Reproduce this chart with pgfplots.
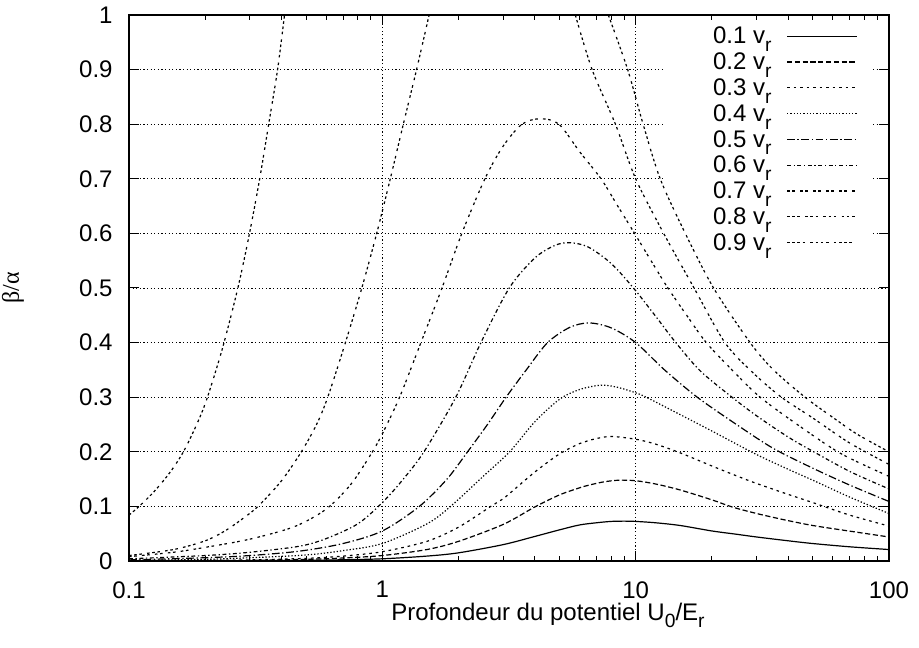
\documentclass[border=0pt]{standalone}
\usepackage{fontspec}
\setmainfont{Liberation Sans}
\newfontfamily\symb{Liberation Serif}
\usepackage{pgfplots}
\pgfplotsset{compat=1.18}
\newcommand\sub[1]{\raisebox{-0.32em}{\fontsize{9.6}{10}\selectfont #1}}
\begin{document}
\fontsize{12}{14}\selectfont
\begin{tikzpicture}
\begin{axis}[
  scale only axis, width=380pt, height=273pt,
  xmode=log, xmin=0.1, xmax=100, ymin=0, ymax=1,
  xtick={0.1,1,10,100}, xticklabels={0.1,1,10,100},
  ytick={0,0.1,0.2,0.3,0.4,0.5,0.6,0.7,0.8,0.9,1},
  yticklabels={0,0.1,0.2,0.3,0.4,0.5,0.6,0.7,0.8,0.9,1},
  /pgf/number format/assume math mode=true,
  tick align=inside, major tick length=5pt, minor tick length=2.5pt,
  tick style={black, line width=0.5pt},
  axis line style={line width=0.9pt},
  xmajorgrids=true, ymajorgrids=false,
  major grid style={black, line width=0.45pt, dash pattern=on 0.6pt off 1.2pt},
  xticklabel style={yshift=-6pt},
  yticklabel style={xshift=-4pt},
  every axis x label/.style={at={(axis description cs:0.5513,-0.1081)}, anchor=base},
  every axis y label/.style={at={(axis description cs:-0.1526,0.5)}, anchor=center, rotate=90},
  xlabel={Profondeur du potentiel U\sub{0}/E\sub{r}},
  ylabel={{\symb β/α}},
  legend plot pos=right, legend cell align=right,
  legend style={at={(0.979,0.987)}, anchor=north east, draw=none, fill=none,
    inner xsep=7.5pt, inner ysep=0pt, column sep=7.5pt, row sep=0pt,
    nodes={inner sep=0pt, text height=10.75pt, text depth=2.15pt}},
  legend image code/.code={\draw[#1] (0pt,-0.4pt) -- (35pt,-0.4pt);},
  unbounded coords=jump,
  no markers,
  every axis plot/.append style={black, line width=0.6pt, smooth, tension=0.5},
]
% horizontal grid lines, interrupted behind the key
\addplot[forget plot, sharp plot, line width=0.45pt, dash pattern=on 0.6pt off 1.2pt] coordinates {(0.1,0.1)(100,0.1)(1,nan)(0.1,0.2)(100,0.2)(1,nan)(0.1,0.3)(100,0.3)(1,nan)(0.1,0.4)(100,0.4)(1,nan)(0.1,0.5)(100,0.5)(1,nan)(0.1,0.6)(12.85,0.6)(1,nan)(86.5,0.6)(100,0.6)(1,nan)(0.1,0.7)(12.85,0.7)(1,nan)(86.5,0.7)(100,0.7)(1,nan)(0.1,0.8)(12.85,0.8)(1,nan)(86.5,0.8)(100,0.8)(1,nan)(0.1,0.9)(12.85,0.9)(1,nan)(86.5,0.9)(100,0.9)};
\addplot[solid] coordinates {(0.1,0.00005)(0.2,0.0002)(0.3,0.0005)(0.5,0.0012)(0.7,0.0023)(1,0.004)(1.5,0.009)(2,0.015)(3,0.030)(4,0.045)(5,0.057)(6,0.066)(7,0.070)(8,0.0725)(9,0.073)(10,0.0725)(12,0.070)(15,0.065)(20,0.055)(25,0.049)(30,0.044)(40,0.037)(50,0.032)(70,0.026)(100,0.021)};
\addlegendentry{\makebox[47.5pt][r]{0.1 v\sub{r}}}
\addplot[dash pattern=on 2.6pt off 1.3pt] coordinates {(0.1,0.0002)(0.2,0.0006)(0.3,0.0012)(0.5,0.003)(0.7,0.0055)(1,0.010)(1.5,0.021)(2,0.036)(3,0.067)(4,0.099)(5,0.121)(6,0.134)(6.55,0.139)(7.5,0.145)(8.6,0.148)(10,0.147)(12,0.141)(15,0.130)(20,0.112)(24,0.099)(30,0.087)(39,0.075)(50,0.065)(67,0.056)(100,0.044)};
\addlegendentry{\makebox[47.5pt][r]{0.2 v\sub{r}}}
\addplot[dash pattern=on 1.3pt off 1.95pt] coordinates {(0.1,0.0004)(0.2,0.0011)(0.3,0.002)(0.5,0.0048)(0.7,0.009)(1,0.017)(1.5,0.036)(2,0.062)(2.68,0.1)(3,0.114)(4,0.163)(5,0.196)(6,0.215)(6.55,0.221)(7.9,0.228)(10,0.223)(12,0.214)(15,0.198)(20,0.174)(25,0.156)(30,0.142)(40,0.122)(50,0.107)(70,0.084)(100,0.064)};
\addlegendentry{\makebox[47.5pt][r]{0.3 v\sub{r}}}
\addplot[dash pattern=on 0.65pt off 0.975pt] coordinates {(0.1,0.001)(0.2,0.003)(0.3,0.006)(0.5,0.011)(0.7,0.019)(1,0.032)(1.5,0.068)(1.86,0.1)(2.5,0.155)(3.18,0.2)(4,0.255)(5,0.296)(6,0.314)(7.3,0.322)(8.5,0.318)(10,0.308)(11,0.300)(15,0.268)(20,0.238)(30,0.195)(40,0.168)(50,0.148)(70,0.117)(100,0.087)};
\addlegendentry{\makebox[47.5pt][r]{0.4 v\sub{r}}}
\addplot[dash pattern=on 3.9pt off 1.3pt on 0.65pt off 1.3pt] coordinates {(0.1,0.002)(0.2,0.006)(0.3,0.010)(0.47,0.018)(0.7,0.032)(1,0.055)(1.4,0.1)(1.8,0.15)(2.17,0.2)(2.6,0.25)(3.08,0.3)(3.7,0.35)(4.49,0.4)(5.5,0.428)(6.55,0.436)(8,0.427)(10,0.4)(13,0.35)(17.5,0.3)(25,0.25)(35,0.206)(50,0.170)(70,0.139)(100,0.109)};
\addlegendentry{\makebox[47.5pt][r]{0.5 v\sub{r}}}
\addplot[dash pattern=on 1.95pt off 1.3pt on 0.65pt off 1.3pt] coordinates {(0.1,0.004)(0.2,0.010)(0.3,0.016)(0.47,0.027)(0.6,0.041)(0.8,0.068)(1,0.107)(1.2,0.148)(1.46,0.2)(1.95,0.3)(2.45,0.4)(3.17,0.5)(4,0.555)(4.8,0.578)(5.5,0.583)(6.5,0.575)(8,0.545)(9.8,0.5)(12,0.448)(14.4,0.4)(18,0.348)(24,0.3)(30,0.266)(40,0.227)(50,0.201)(70,0.164)(100,0.132)};
\addlegendentry{\makebox[47.5pt][r]{0.6 v\sub{r}}}
\addplot[dash pattern=on 1.3pt off 1.3pt on 1.3pt off 2.6pt] coordinates {(0.1,0.008)(0.15,0.016)(0.2,0.025)(0.3,0.040)(0.45,0.063)(0.6,0.095)(0.75,0.14)(0.9,0.195)(1,0.233)(1.17,0.3)(1.42,0.4)(1.72,0.5)(2.06,0.6)(2.54,0.7)(3.0,0.76)(3.56,0.80)(4.2,0.81)(4.98,0.8)(6.0,0.75)(7.3,0.7)(8.5,0.65)(9.9,0.6)(11.5,0.55)(13.4,0.5)(15.9,0.45)(19,0.4)(24,0.35)(31,0.3)(45,0.245)(65,0.196)(100,0.155)};
\addlegendentry{\makebox[47.5pt][r]{0.7 v\sub{r}}}
\addplot[dash pattern=on 1.3pt off 1.3pt on 1.3pt off 1.3pt on 1.3pt off 2.6pt] coordinates {(0.1,0.010)(0.15,0.021)(0.2,0.037)(0.239,0.055)(0.28,0.077)(0.323,0.1)(0.4,0.147)(0.479,0.2)(0.55,0.25)(0.609,0.3)(0.715,0.4)(0.83,0.5)(0.95,0.6)(1.075,0.7)(1.21,0.8)(1.365,0.9)(1.53,1.0)(3,nan)(5.78,1.0)(6.73,0.9)(8.32,0.8)(10,0.7)(12.9,0.6)(17,0.5)(22.5,0.4)(29,0.345)(37.6,0.3)(50,0.262)(70,0.216)(100,0.177)};
\addlegendentry{\makebox[47.5pt][r]{0.8 v\sub{r}}}
\addplot[dash pattern=on 1.3pt off 1.3pt on 1.3pt off 1.3pt on 1.3pt off 1.3pt on 1.3pt off 2.6pt] coordinates {(0.1,0.084)(0.109,0.099)(0.125,0.126)(0.145,0.162)(0.164,0.2)(0.185,0.25)(0.203,0.297)(0.234,0.39)(0.269,0.5)(0.299,0.6)(0.328,0.7)(0.356,0.8)(0.386,0.9)(0.411,1.0)(2,nan)(7.8,1.0)(9.3,0.9)(10.7,0.8)(12.5,0.7)(15.7,0.6)(20.3,0.5)(28.3,0.4)(35,0.35)(46.6,0.3)(60,0.263)(75,0.232)(100,0.200)};
\addlegendentry{\makebox[47.5pt][r]{0.9 v\sub{r}}}
\end{axis}
\pgfresetboundingbox
\path (-64.5pt,-43pt) rectangle (395pt,280.5pt);
\end{tikzpicture}
\end{document}
